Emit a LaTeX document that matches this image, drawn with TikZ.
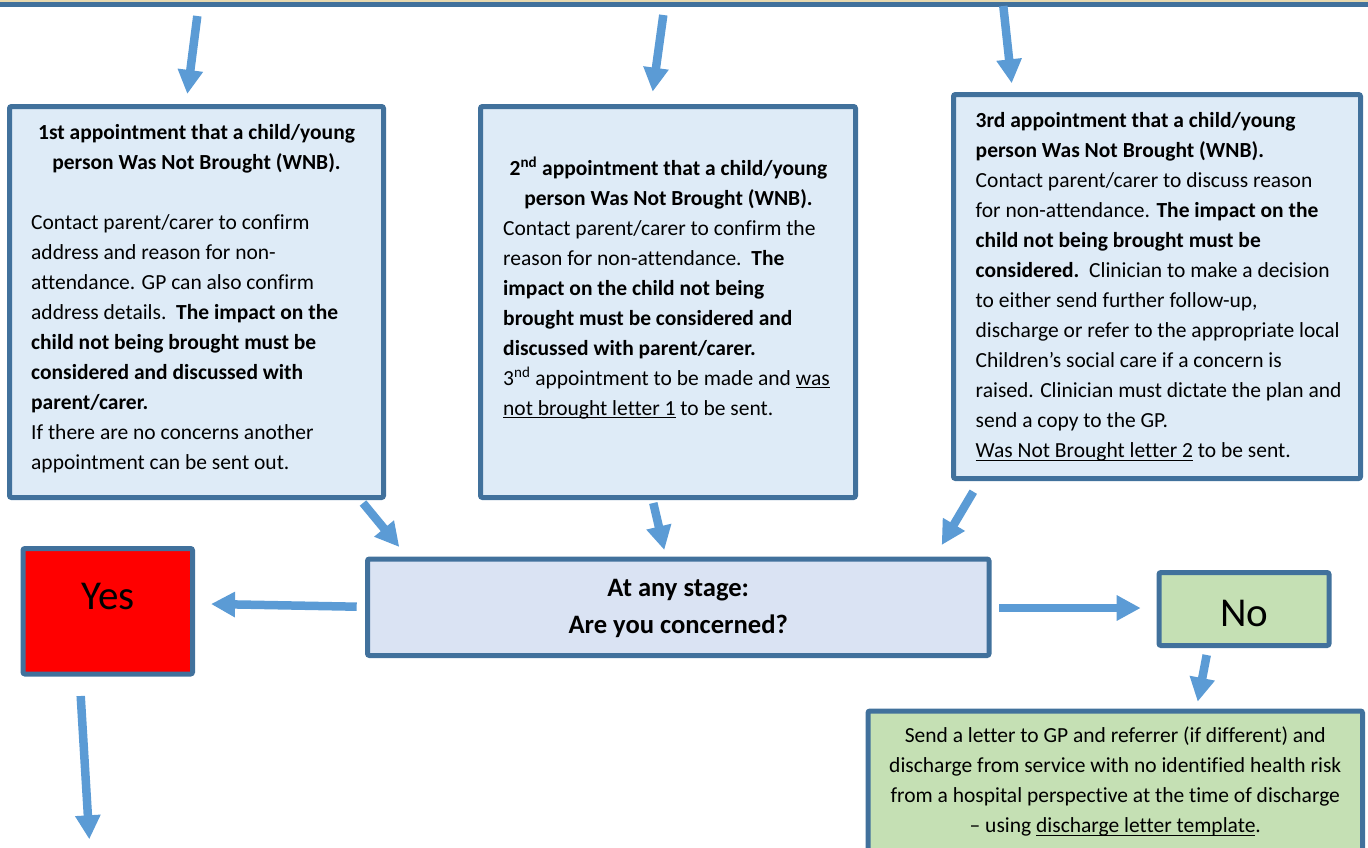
\documentclass[tikz,border=0pt]{standalone}
\usepackage{fontspec}
\setmainfont{Carlito}[Ligatures=NoCommon]
\usetikzlibrary{arrows.meta}
\definecolor{bordc}{HTML}{41719C}
\definecolor{arrc}{HTML}{5B9BD5}
\definecolor{lblue}{HTML}{DEEBF7}
\definecolor{cblue}{HTML}{DAE3F3}
\definecolor{lgreen}{HTML}{C5E0B4}
\definecolor{tanc}{HTML}{E9D9AE}
\definecolor{yesred}{HTML}{FF0000}
\newcommand{\ulx}[1]{\setbox0\hbox{#1}\leavevmode\rlap{\vrule width\wd0 height -2.2pt depth 3.4pt}\box0\relax}
\begin{document}
\begin{tikzpicture}[x=1pt,y=-1pt,
  box/.style={draw=bordc,line width=5pt,rounded corners=2pt,inner sep=0pt},
  arr/.style={draw=arrc,line width=8.5pt,-{Triangle[length=24pt,width=24pt]}},
  txt/.style={inner sep=0pt,anchor=base west,text=black,font=\fontsize{21.5}{30}\selectfont},
  ctxt/.style={inner sep=0pt,anchor=base,text=black,font=\fontsize{21.5}{30}\selectfont}]
\useasboundingbox (0,0) rectangle (1368,847);
% top band
\fill[tanc] (0,0) rectangle (1368,1.5);
\fill[bordc] (0,2.2) rectangle (1368,6.7);
% boxes
\node[box,fill=lblue,minimum width=374pt,minimum height=391pt] (b1) at (196.5,302) {};
\node[box,fill=lblue,minimum width=375pt,minimum height=391pt] (b2) at (668,302) {};
\node[box,fill=lblue,minimum width=407pt,minimum height=384pt] (b3) at (1157,286.5) {};
\node[box,fill=cblue,minimum width=621.5pt,minimum height=96.5pt] (ctr) at (678.25,607.25) {};
\node[box,fill=yesred,minimum width=169.5pt,minimum height=125.5pt] (yes) at (107.75,611.25) {};
\node[box,fill=lgreen,minimum width=170pt,minimum height=73pt] (no) at (1244,609) {};
\node[box,fill=lgreen,minimum width=494.5pt,minimum height=169pt] (bot) at (1115.25,795.5) {};
% box 1 text
\node[ctxt] (t1) at (196.5,139) {\parbox[t]{370pt}{\centering\bfseries 1st appointment that a child/young\\ person Was Not Brought (WNB).}};
\node[txt] (x1) at (31,229) {\parbox[t]{350pt}{Contact parent/carer to confirm\\
address and reason for non-\\
attendance. GP can also confirm\\
address details.\ \ \textbf{The impact on the}\\
\textbf{child not being brought must be}\\
\textbf{considered and discussed with}\\
\textbf{parent/carer.}\\
If there are no concerns another\\
appointment can be sent out.}};
% box 2 text
\node[ctxt] (t2) at (668.5,175) {\parbox[t]{370pt}{\centering\bfseries 2\textsuperscript{nd} appointment that a child/young\\ person Was Not Brought (WNB).}};
\node[txt] (x2) at (503,235) {\parbox[t]{355pt}{Contact parent/carer to confirm the\\
reason for non-attendance.\ \ \textbf{The}\\
\textbf{impact on the child not being}\\
\textbf{brought must be considered and}\\
\textbf{discussed with parent/carer.}\\
3\textsuperscript{nd} appointment to be made and \ulx{was}\\
\ulx{not brought letter 1} to be sent.}};
% box 3 text
\node[txt] (x3) at (975.5,127.7) {\parbox[t]{385pt}{\textbf{3rd appointment that a child/young}\\
\textbf{person Was Not Brought (WNB).}\\
Contact parent/carer to discuss reason\\
for non-attendance. \textbf{The impact on the}\\
\textbf{child not being brought must be}\\
\textbf{considered.}\ \ Clinician to make a decision\\
to either send further follow-up,\\
discharge or refer to the appropriate local\\
Children’s social care if a concern is\\
raised. Clinician must dictate the plan and\\
send a copy to the GP.\\
\ulx{Was Not Brought letter 2} to be sent.}};
% centre text
\node[ctxt,font=\fontsize{26.6}{37}\selectfont\bfseries] (tc) at (678.25,596) {\parbox[t]{600pt}{\centering At any stage:\\ Are you concerned?}};
\node[ctxt,font=\fontsize{41}{48}\selectfont] (ty) at (108,609.3) {Yes};
\node[ctxt,font=\fontsize{41}{48}\selectfont] (tn) at (1244.5,626) {No};
\node[ctxt] (tb) at (1115.25,742.7) {\parbox[t]{490pt}{\centering Send a letter to GP and referrer (if different) and\\
discharge from service with no identified health risk\\
from a hospital perspective at the time of discharge\\
– using \ulx{discharge letter template}.}};
% arrows
\coordinate (a1s) at (197.3,16);   \coordinate (a1e) at (187.3,94);
\coordinate (a2s) at (663.3,15);   \coordinate (a2e) at (652.7,91.7);
\coordinate (a3s) at (1003.3,6);   \coordinate (a3e) at (1011.7,83.3);
\coordinate (a4s) at (363,503);    \coordinate (a4e) at (399.3,547);
\coordinate (a5s) at (653.3,503);  \coordinate (a5e) at (664.3,550);
\coordinate (a6s) at (973.3,491.7);\coordinate (a6e) at (941.7,545);
\coordinate (ays) at (356.7,606.7);\coordinate (aye) at (211,604);
\coordinate (ans) at (999,608);    \coordinate (ane) at (1140.7,608);
\coordinate (ads) at (1206.7,655); \coordinate (ade) at (1197.7,701.7);
\coordinate (yds) at (80.7,696);   \coordinate (yde) at (89.3,839.3);
\draw[arr] (a1s) -- (a1e);
\draw[arr] (a2s) -- (a2e);
\draw[arr] (a3s) -- (a3e);
\draw[arr] (a4s) -- (a4e);
\draw[arr] (a5s) -- (a5e);
\draw[arr] (a6s) -- (a6e);
\draw[arr] (ays) -- (aye);
\draw[arr] (ans) -- (ane);
\draw[arr] (ads) -- (ade);
\draw[arr] (yds) -- (yde);
\end{tikzpicture}
\end{document}
